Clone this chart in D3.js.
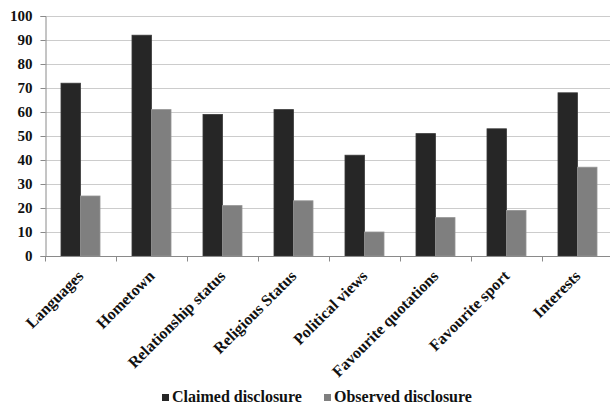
<!DOCTYPE html>
<html>
<head>
<meta charset="utf-8">
<script src="https://cdn.jsdelivr.net/npm/d3@7"></script>
<style>
  html, body { margin: 0; padding: 0; background: #fff; }
  svg { display: block; font-family: "Liberation Serif", "Times New Roman", serif; font-weight: bold; }
</style>
</head>
<body>
<svg id="chart" width="610" height="408"></svg>
<script>
// Profile attributes and the share of users disclosing each one (%)
const categories = ["Languages", "Hometown", "Relationship status", "Religious Status",
  "Political views", "Favourite quotations", "Favourite sport", "Interests"];
const seriesNames = ["Claimed disclosure", "Observed disclosure"];
const claimed = [72, 92, 59, 61, 42, 51, 53, 68];
const observed = [25, 61, 21, 23, 10, 16, 19, 37];
const yTicks = [0, 10, 20, 30, 40, 50, 60, 70, 80, 90, 100];
const colors = ["#262626", "#7f7f7f"];

const svg = d3.select("#chart");
const plotLeft = 45, plotRight = 613, plotTop = 16, plotBottom = 256;

const x = d3.scaleBand().domain(categories).range([plotLeft, plotRight]).paddingInner(0).paddingOuter(0);
const y = d3.scaleLinear().domain([0, 100]).range([plotBottom, plotTop]);
const inner = d3.scaleBand().domain(seriesNames).range([0, x.bandwidth()]).paddingInner(0).paddingOuter(0.82);

// Horizontal gridlines
svg.append("g")
  .selectAll("line")
  .data(yTicks.filter(d => d > 0))
  .join("line")
  .attr("x1", plotLeft).attr("x2", 610)
  .attr("y1", d => y(d) + 0.5).attr("y2", d => y(d) + 0.5)
  .attr("stroke", "#cccccc").attr("stroke-width", 1.2);

// Bars
const rows = categories.map((c, i) => ({ c, vals: [claimed[i], observed[i]] }));
const groups = svg.append("g").selectAll("g")
  .data(rows).join("g")
  .attr("transform", d => `translate(${x(d.c)},0)`);
groups.selectAll("rect")
  .data(d => d.vals.map((v, k) => ({ name: seriesNames[k], v, k })))
  .join("rect")
  .attr("x", d => inner(d.name))
  .attr("width", inner.bandwidth())
  .attr("y", d => y(d.v))
  .attr("height", d => y(0) - y(d.v))
  .attr("fill", d => colors[d.k])
  .attr("stroke", d => d.k === 0 ? "#3a3a3a" : "#949494")
  .attr("stroke-width", 0.8);

// Y axis
const yAxis = d3.axisLeft(y).tickValues(yTicks).tickSize(5).tickPadding(8);
const gy = svg.append("g").attr("transform", `translate(${plotLeft + 0.5},0)`).call(yAxis);
gy.select(".domain").attr("stroke", "#8a8a8a");
gy.selectAll(".tick line").attr("stroke", "#8a8a8a");
gy.selectAll(".tick text")
  .attr("font-family", "Liberation Serif, Times New Roman, serif")
  .attr("font-weight", "bold").attr("font-size", 15).attr("fill", "#111");

// X axis with ticks at the category boundaries
const gx = svg.append("g").attr("transform", `translate(0,${plotBottom + 0.5})`);
gx.append("line").attr("x1", plotLeft).attr("x2", 610).attr("stroke", "#8a8a8a");
gx.selectAll("line.tk")
  .data(categories.map(c => x(c)).concat([plotRight]))
  .join("line").attr("class", "tk")
  .attr("x1", d => d + 0.5).attr("x2", d => d + 0.5)
  .attr("y1", 0).attr("y2", 5).attr("stroke", "#8a8a8a");

// Rotated category labels
svg.append("g").selectAll("text")
  .data(categories).join("text")
  .attr("transform", d => `translate(${x(d) + x.bandwidth() / 2 + 4},${plotBottom + 21}) rotate(-45)`)
  .attr("text-anchor", "end")
  .attr("font-size", 16).attr("fill", "#111")
  .text(d => d);

// Legend
const legend = svg.append("g");
const legendItems = [{ name: seriesNames[0], x: 162 }, { name: seriesNames[1], x: 324 }];
legendItems.forEach((it, k) => {
  legend.append("rect").attr("x", it.x).attr("y", 394).attr("width", 7).attr("height", 7)
    .attr("fill", colors[k]);
  legend.append("text").attr("x", it.x + 10).attr("y", 402)
    .attr("font-size", 16).attr("fill", "#111").text(it.name);
});
</script>
</body>
</html>
